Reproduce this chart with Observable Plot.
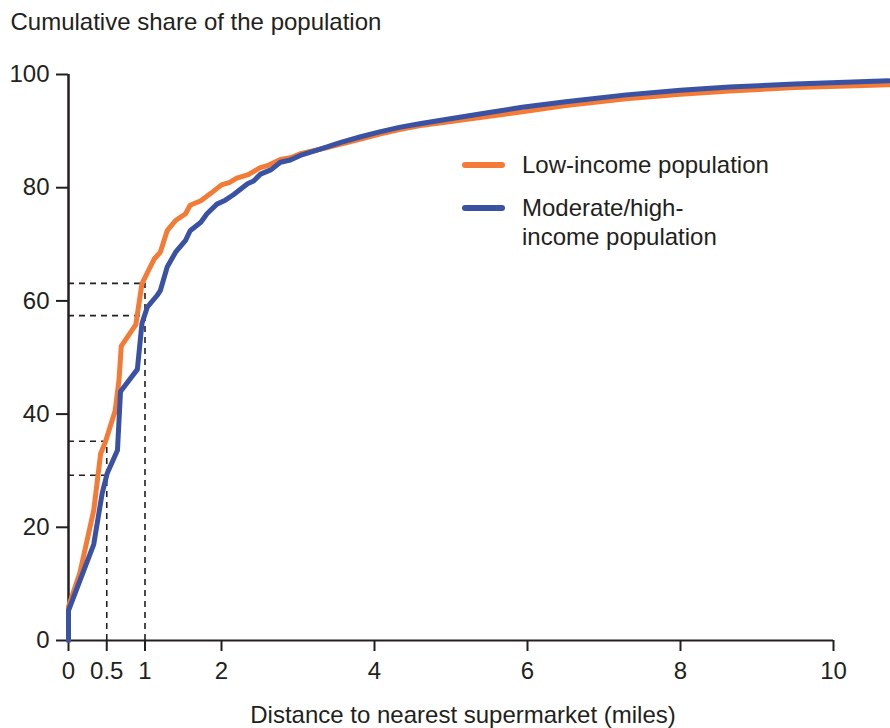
<!DOCTYPE html>
<html><head><meta charset="utf-8">
<script src="https://cdn.jsdelivr.net/npm/d3@7"></script>
<script src="https://cdn.jsdelivr.net/npm/@observablehq/plot@0.6"></script>
<style>
body{margin:0;background:#fff;}
#wrap{position:relative;width:890px;height:728px;font-family:"Liberation Sans",Arial,Helvetica,sans-serif;color:#231f20;}
.sw{position:absolute;left:462px;width:43px;height:6px;border-radius:3px;}
.lt{position:absolute;left:522px;font-size:24px;line-height:29px;white-space:pre;}
</style></head><body><div id="wrap"></div>
<script>
// Cumulative share (%) by distance to nearest supermarket (miles)
const lowDist  = [0, 0, 0.15, 0.33, 0.42, 0.48, 0.61, 0.66, 0.69, 0.88, 0.96, 1.05, 1.12, 1.2, 1.29, 1.4, 1.53, 1.59, 1.73, 1.86, 2.0, 2.1, 2.2, 2.35, 2.5, 2.62, 2.77, 2.9, 3.03, 3.29, 3.56, 3.82, 4.08, 4.34, 4.6, 4.95, 5.5, 5.93, 6.5, 7.29, 8.0, 8.64, 9.5, 10.72];
const lowShare = [0, 6, 12, 23, 33, 35, 40.6, 46, 52, 55.8, 63, 65.5, 67.4, 68.6, 72.4, 74.2, 75.4, 76.9, 77.7, 79, 80.5, 80.9, 81.7, 82.3, 83.5, 84.0, 85.0, 85.3, 86, 86.8, 87.7, 88.6, 89.5, 90.3, 91, 91.6, 92.6, 93.4, 94.5, 95.7, 96.5, 97.1, 97.7, 98.2];
const highDist  = [0, 0, 0.33, 0.44, 0.505, 0.64, 0.68, 0.9, 0.96, 1.03, 1.16, 1.2, 1.29, 1.4, 1.53, 1.59, 1.73, 1.81, 1.94, 2.05, 2.16, 2.34, 2.42, 2.51, 2.65, 2.77, 2.9, 3.03, 3.29, 3.56, 3.82, 4.08, 4.34, 4.59, 4.95, 5.5, 5.93, 6.5, 7.29, 8.0, 8.64, 9.5, 10.72];
const highShare = [0, 5.3, 17, 26, 29.5, 33.6, 44, 47.9, 56, 58.9, 61, 61.8, 66, 68.6, 70.7, 72.4, 73.9, 75.4, 77.1, 77.8, 78.8, 80.7, 81.2, 82.4, 83.2, 84.5, 84.9, 85.7, 86.8, 88, 89, 89.9, 90.7, 91.3, 92.1, 93.3, 94.2, 95.2, 96.4, 97.2, 97.8, 98.3, 98.9];
// reference (dashed) values at 0.5 and 1 mile
const refDist = [0.5, 1];
const refLow  = [35.2, 63.1];
const refHigh = [29.2, 57.4];
const xTicks = [0, 0.5, 1, 2, 4, 6, 8, 10];
const yTicks = [0, 20, 40, 60, 80, 100];
const seriesNames = ["Low-income population", "Moderate/high-\nincome population"];
const seriesColors = ["#F47B35", "#3A52A3"];
const yTitle = "Cumulative share of the population";
const xTitle = "Distance to nearest supermarket (miles)";

const low = lowDist.map((d, i) => ({d, v: lowShare[i]}));
const high = highDist.map((d, i) => ({d, v: highShare[i]}));
const refRows = refDist.flatMap((d, i) => [{d, v: refLow[i]}, {d, v: refHigh[i]}]);
const refCols = refDist.map((d, i) => ({d, v: refLow[i]}));
const ink = "#231f20";

const chart = Plot.plot({
  width: 890, height: 728,
  marginLeft: 68, marginRight: 57, marginTop: 74, marginBottom: 88,
  x: {domain: [0, 10]},
  y: {domain: [0, 100]},
  style: {fontFamily: '"Liberation Sans", Arial, Helvetica, sans-serif', fontSize: "24px", color: ink, background: "white", overflow: "visible"},
  marks: [
    Plot.ruleY(refRows, {y: "v", x1: 0, x2: "d", stroke: ink, strokeWidth: 1.6, strokeDasharray: "6,5"}),
    Plot.ruleX(refCols, {x: "d", y1: 0, y2: "v", stroke: ink, strokeWidth: 1.6, strokeDasharray: "6,5"}),
    Plot.axisX({ticks: xTicks, tickSize: 11, tickPadding: 10, tickFormat: d => String(d), label: null, stroke: ink, strokeWidth: 2, fill: ink}),
    Plot.axisY({ticks: yTicks, tickSize: 12, tickPadding: 7, label: null, stroke: ink, strokeWidth: 2, fill: ink}),
    Plot.ruleY([0], {x1: 0, x2: 10, stroke: ink, strokeWidth: 2}),
    Plot.ruleX([0], {y1: 0, y2: 100, stroke: ink, strokeWidth: 2.5}),
    Plot.line(low, {x: "d", y: "v", stroke: seriesColors[0], strokeWidth: 5, strokeLinejoin: "round"}),
    Plot.line(high, {x: "d", y: "v", stroke: seriesColors[1], strokeWidth: 5, strokeLinejoin: "round"}),
    Plot.text([xTitle], {text: d => d, frameAnchor: "bottom", lineAnchor: "middle", dx: 12, dy: 75, fill: ink}),
    Plot.text([yTitle], {text: d => d, frameAnchor: "top-left", lineAnchor: "middle", textAnchor: "start", dx: -58, dy: -52, fill: ink})
  ]
});
const wrap = document.getElementById("wrap");
wrap.appendChild(chart);

const legTops = [162, 205];
const textTops = [150, 193];
seriesNames.forEach((name, i) => {
  const sw = document.createElement("div");
  sw.className = "sw";
  sw.style.top = legTops[i] + "px";
  sw.style.background = seriesColors[i];
  wrap.appendChild(sw);
  const t = document.createElement("div");
  t.className = "lt";
  t.style.top = textTops[i] + "px";
  t.textContent = name;
  wrap.appendChild(t);
});
</script></body></html>
